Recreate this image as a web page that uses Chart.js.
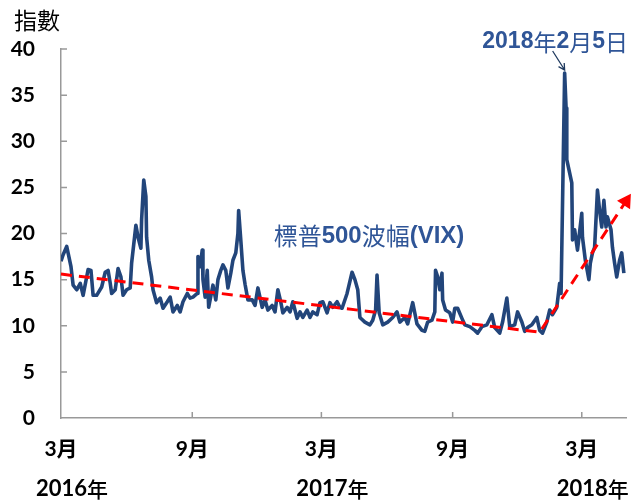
<!DOCTYPE html>
<html>
<head>
<meta charset="utf-8">
<script src="https://cdn.jsdelivr.net/npm/chart.js@4.4.1/dist/chart.umd.min.js"></script>
<style>
    html, body { margin: 0; padding: 0; background: #fff; }
    #wrap { width: 635px; height: 503px; position: relative; }
</style>
</head>
<body>
<div id="wrap"><canvas id="vixChart" width="635" height="503"></canvas></div>
<script>
// days counted from 1 Mar 2016
const vixDays = [0, 3, 8, 14, 17, 22, 27, 31, 38, 42, 45, 50, 57, 62, 66, 69, 71, 76, 80, 84, 87, 92, 97, 99,
    105, 108, 112, 113, 116, 119, 120, 123, 127, 129, 134, 139, 143, 149, 153, 157, 163, 167, 171, 177, 181, 185,
    191, 192, 195, 198, 199, 202, 205, 207, 213, 217, 220, 224, 227, 231, 234, 238, 241, 245, 248, 249, 252, 255,
    258, 262, 268, 272, 276, 282, 286, 290, 296, 300, 304, 308, 311, 317, 321, 325, 331, 335, 339, 345, 349, 353,
    359, 363, 367, 373, 377, 381, 387, 391, 394, 401, 408, 412, 416, 419, 426, 433, 437, 441, 443, 446, 451, 458,
    465, 471, 475, 482, 486, 493, 499, 506, 510, 514, 520, 524, 525, 528, 531, 534, 535, 539, 545, 549, 552, 556,
    562, 566, 573, 580, 584, 590, 597, 604, 608, 615, 619, 625, 629, 636, 640, 646, 650, 654, 660, 667, 671, 675,
    681, 685, 689, 695, 699, 701, 706, 708, 709, 716, 717, 720, 724, 730, 731, 735, 740, 742, 745, 748, 752, 755,
    758, 761, 764, 766, 771, 773, 776, 779, 783, 786, 789];
const vixValues = [17.0, 17.7, 18.6, 16.4, 14.4, 13.9, 14.6, 13.3, 16.1, 16.0, 13.3, 13.3, 14.2, 15.8, 16.0, 14.6, 13.5, 13.9, 16.2, 15.3, 13.3, 13.9, 14.1, 16.8,
    20.9, 19.6, 18.4, 21.5, 25.8, 24.0, 19.6, 17.1, 15.3, 13.9, 12.5, 13.0, 11.9, 12.6, 13.1, 11.5, 12.2, 11.5, 12.6, 13.5, 13.0, 13.1,
    13.5, 17.5, 16.4, 18.2, 15.0, 13.1, 16.0, 12.0, 14.4, 12.8, 15.0, 16.0, 16.6, 16.0, 14.1, 15.7, 17.1, 17.9, 20.0, 22.5, 19.3, 16.0,
    14.5, 12.8, 12.8, 12.2, 14.1, 12.0, 12.8, 11.7, 12.2, 11.5, 13.9, 12.6, 11.4, 12.0, 11.5, 12.6, 10.8, 11.5, 10.9, 11.7, 10.9, 11.5,
    11.2, 12.5, 12.6, 11.4, 12.5, 12.0, 12.6, 12.0, 11.9, 13.5, 15.8, 15.0, 13.9, 10.9, 10.4, 10.1, 10.6, 11.7, 15.5, 11.4, 10.1, 10.4,
    10.9, 11.5, 10.4, 10.9, 10.2, 12.5, 10.2, 9.5, 9.4, 10.4, 10.6, 11.5, 16.0, 15.3, 13.9, 15.7, 12.8, 11.7, 11.4, 10.4, 11.9, 11.9,
    10.8, 10.1, 9.9, 9.5, 9.2, 9.9, 10.1, 11.2, 9.8, 9.2, 10.4, 13.0, 9.9, 10.1, 11.5, 10.4, 9.4, 9.8, 10.1, 10.9, 9.5, 9.2,
    10.4, 11.7, 11.2, 12.0, 14.6, 13.5, 37.4, 33.6, 28.0, 25.5, 19.3, 20.4, 18.2, 22.2, 19.6, 17.1, 15.0, 16.8, 17.9, 18.5, 24.7, 22.5,
    20.7, 23.6, 20.7, 21.8, 20.4, 18.5, 16.8, 15.3, 17.1, 17.9, 15.7];

// red dashed trend: falling leg then rising leg with an arrow
const trendDays = [0, 671, 792];
const trendValues = [15.6, 9.3, 23.5];

const monthTicks = [0, 184, 365, 549, 730];
const monthLabels = ['3月', '9月', '3月', '9月', '3月'];
const yearLabels = ['2016年', '', '2017年', '', '2018年'];
const peakDay = 706;

const lineBlue = '#22457a';
const textBlue = '#2f5597';

function drawRuns(ctx, runs, x, y, align) {
    let total = 0;
    runs.forEach(r => { ctx.font = r.f; total += ctx.measureText(r.t).width; });
    let cx = align === 'right' ? x - total : (align === 'center' ? x - total / 2 : x);
    ctx.textBaseline = 'middle';
    ctx.textAlign = 'left';
    runs.forEach(r => {
        ctx.font = r.f;
        ctx.fillText(r.t, cx, y);
        cx += ctx.measureText(r.t).width;
    });
}

const innerTicks = {
    id: 'innerTicks',
    beforeDatasetsDraw(chart) {
        const { ctx, scales: { x, y } } = chart;
        ctx.save();
        ctx.strokeStyle = '#999';
        ctx.lineWidth = 1.5;
        ctx.beginPath();
        y.ticks.forEach(t => {
            if (t.value === 0) return;
            const py = y.getPixelForValue(t.value);
            ctx.moveTo(x.left, py);
            ctx.lineTo(x.left + 6, py);
        });
        monthTicks.forEach(d => {
            if (d === 0) return;
            const px = x.getPixelForValue(d);
            ctx.moveTo(px, y.bottom);
            ctx.lineTo(px, y.bottom - 6);
        });
        ctx.stroke();
        ctx.restore();
    }
};

const extraText = {
    id: 'extraText',
    afterDraw(chart) {
        const { ctx, scales: { x, y } } = chart;
        ctx.save();
        // y axis title
        ctx.fillStyle = '#000';
        drawRuns(ctx, [{ t: '指數', f: '23px "Noto Sans CJK TC"' }], 14, 20, 'left');

        // year row
        monthTicks.forEach((d, i) => {
            if (!yearLabels[i]) return;
            const px = x.getPixelForValue(d) + 11;
            drawRuns(ctx, [
                { t: yearLabels[i].slice(0, 4), f: 'bold 22px Lato' },
                { t: '年', f: '500 21px "Noto Sans CJK TC"' }
            ], px, 489, 'center');
        });

        // series label
        ctx.fillStyle = textBlue;
        const R = '24px "Noto Sans CJK TC"', B = 'bold 24px "Liberation Sans"';
        drawRuns(ctx, [
            { t: '標普', f: R }, { t: '500', f: B }, { t: '波幅', f: R }, { t: '(VIX)', f: B }
        ], 369, 236, 'center');

        // peak annotation
        const R2 = '23px "Noto Sans CJK TC"', B2 = 'bold 23px "Liberation Sans"';
        drawRuns(ctx, [
            { t: '2018', f: B2 }, { t: '年', f: R2 }, { t: '2', f: B2 },
            { t: '月', f: R2 }, { t: '5', f: B2 }, { t: '日', f: R2 }
        ], 628, 42, 'right');

        const i = vixDays.indexOf(peakDay);
        const tx = x.getPixelForValue(peakDay), ty = y.getPixelForValue(vixValues[i]) - 3;
        const sx = tx - 12, sy = ty - 19;
        const ang = Math.atan2(ty - sy, tx - sx);
        ctx.strokeStyle = '#1f3a5f';
        ctx.lineWidth = 1.3;
        ctx.beginPath();
        ctx.moveTo(sx, sy);
        ctx.lineTo(tx, ty);
        ctx.moveTo(tx - 7 * Math.cos(ang - 0.5), ty - 7 * Math.sin(ang - 0.5));
        ctx.lineTo(tx, ty);
        ctx.lineTo(tx - 7 * Math.cos(ang + 0.5), ty - 7 * Math.sin(ang + 0.5));
        ctx.stroke();
        ctx.restore();
    }
};

new Chart(document.getElementById('vixChart'), {
    type: 'line',
    data: {
        datasets: [
            {
                label: '標普500波幅(VIX)',
                data: vixDays.map((d, i) => ({ x: d, y: vixValues[i] })),
                borderColor: lineBlue,
                borderWidth: 3.6,
                pointRadius: 0,
                tension: 0,
                borderJoinStyle: 'round',
                order: 2
            },
            {
                label: 'trend',
                data: trendDays.map((d, i) => ({ x: d, y: trendValues[i] })),
                borderColor: '#ff0000',
                backgroundColor: '#ff0000',
                borderWidth: 3,
                borderDash: [11, 7],
                pointStyle: 'triangle',
                pointRadius: [0, 0, 6],
                pointRotation: 33,
                clip: false,
                order: 1
            }
        ]
    },
    options: {
        responsive: false,
        devicePixelRatio: 1,
        animation: false,
        layout: { padding: { top: 49, right: 9, bottom: 20, left: 0 } },
        plugins: { legend: { display: false }, tooltip: { enabled: false } },
        scales: {
            x: {
                type: 'linear',
                min: 0,
                max: 792,
                afterBuildTicks: s => { s.ticks = monthTicks.map(v => ({ value: v })); },
                afterFit: s => { s.height = 65; },
                ticks: {
                    autoSkip: false,
                    maxRotation: 0,
                    padding: 19,
                    color: '#000',
                    font: { family: 'Lato, "Noto Sans CJK TC"', size: 21, weight: 'bold' },
                    callback: v => monthLabels[monthTicks.indexOf(v)]
                },
                grid: { drawOnChartArea: false, drawTicks: false },
                border: { color: '#999', width: 1.5 }
            },
            y: {
                min: 0,
                max: 40,
                afterFit: s => { s.width = 61; },
                ticks: {
                    stepSize: 5,
                    padding: 26,
                    color: '#000',
                    font: { family: 'Lato', size: 21, weight: 'bold' }
                },
                grid: { drawOnChartArea: false, drawTicks: false },
                border: { color: '#999', width: 1.5 }
            }
        }
    },
    plugins: [innerTicks, extraText]
});
</script>
</body>
</html>
